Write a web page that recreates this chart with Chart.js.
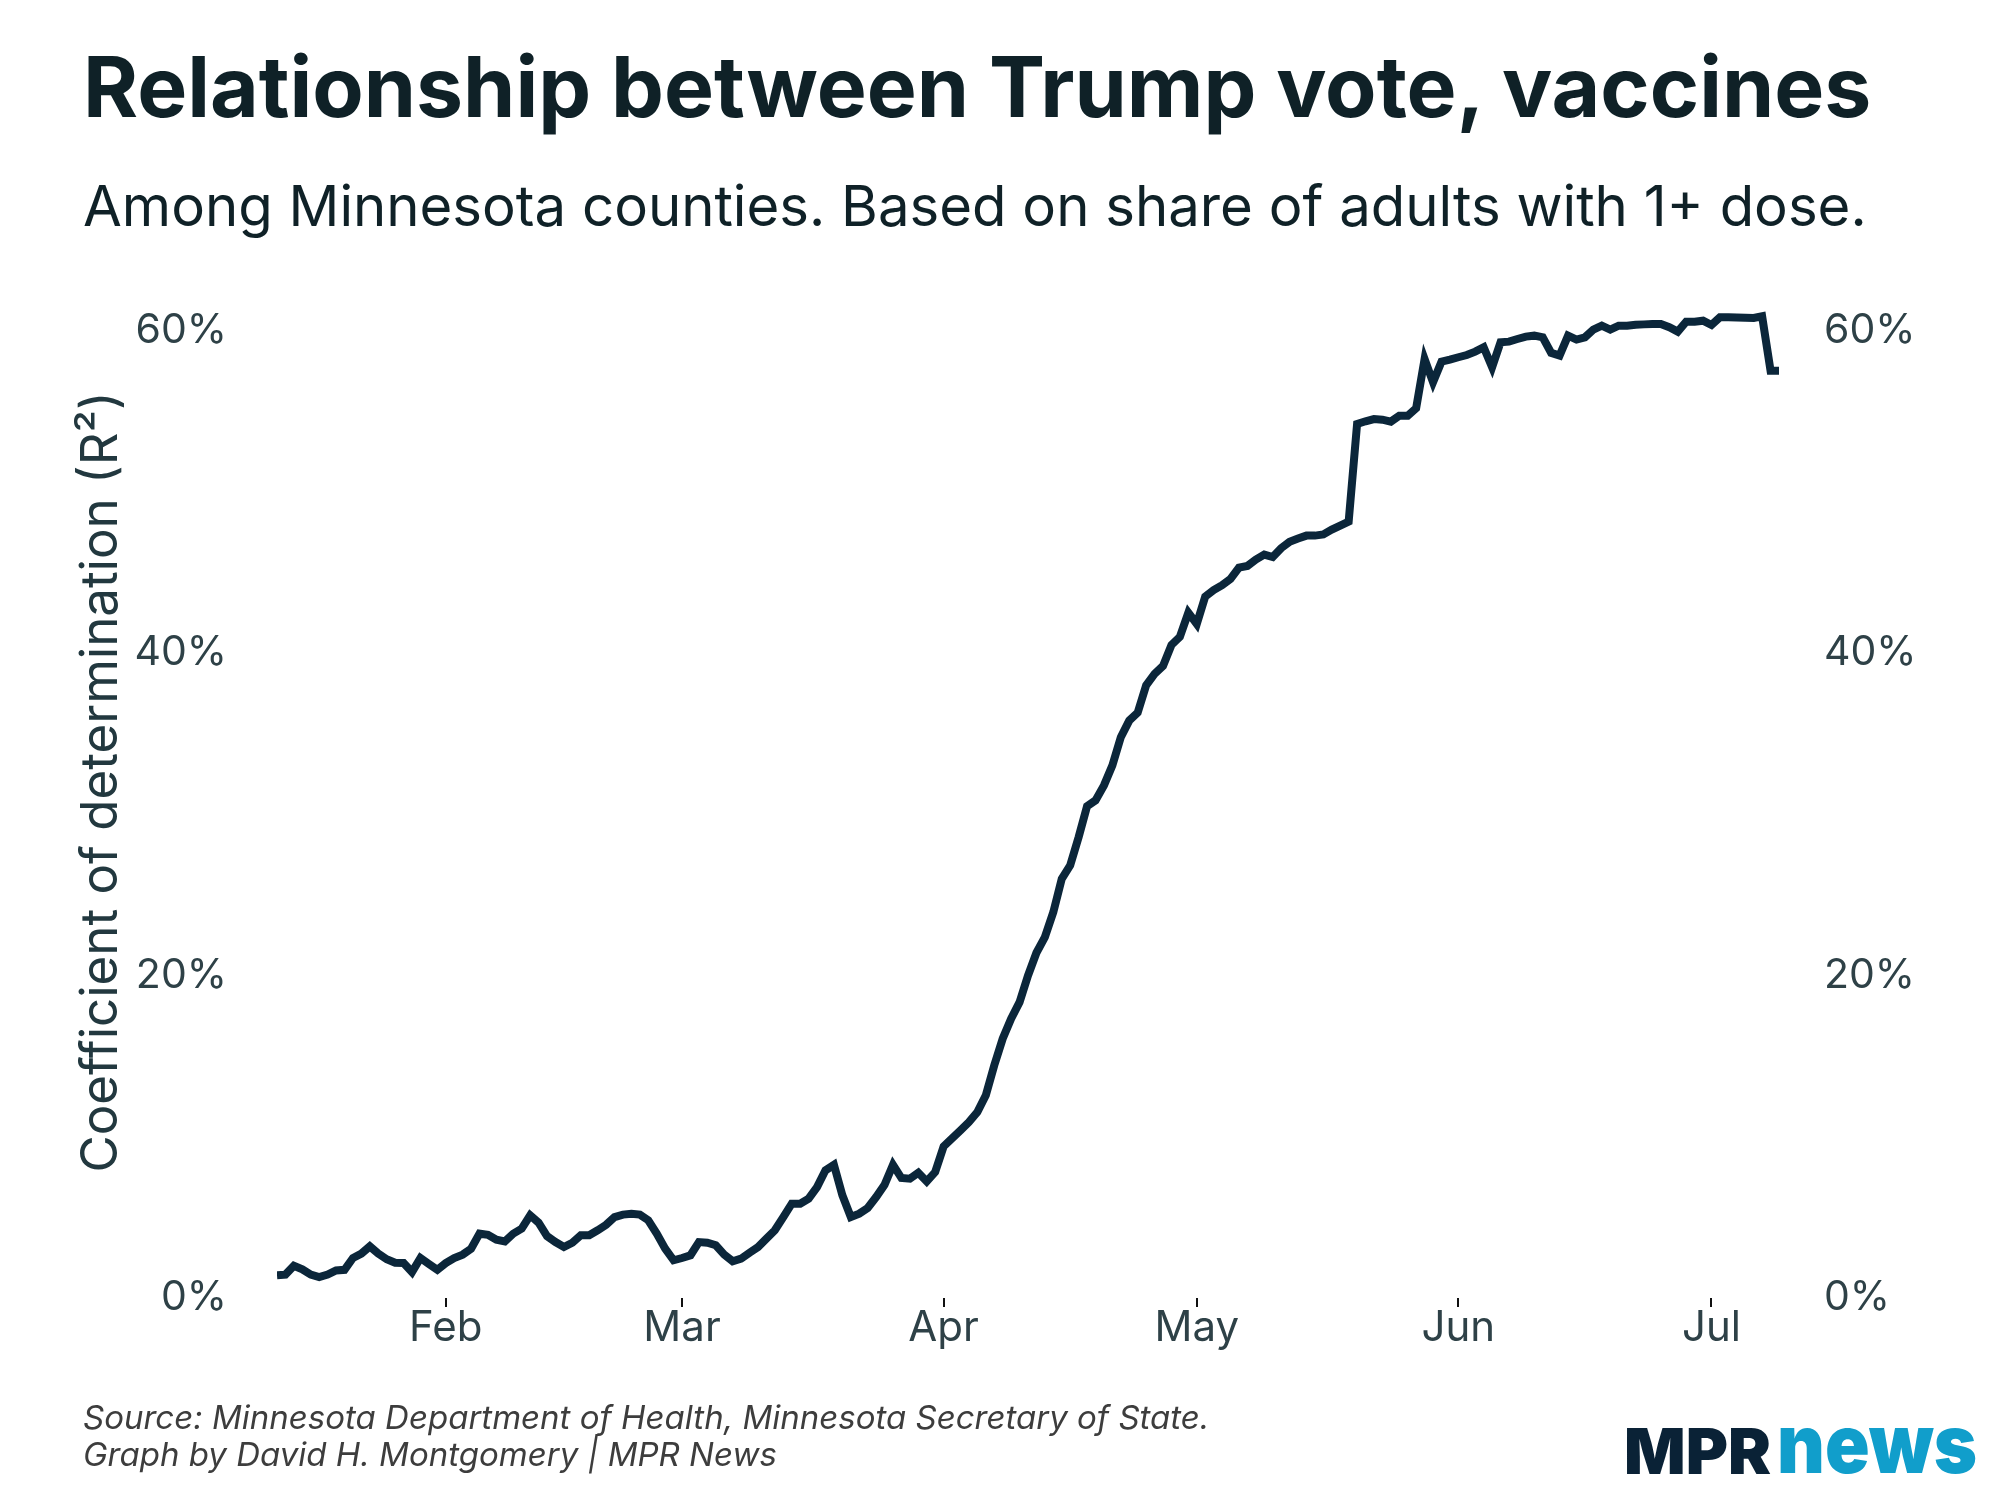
<!DOCTYPE html>
<html>
<head>
<meta charset="utf-8">
<title>Relationship between Trump vote, vaccines</title>
<script src="https://cdn.jsdelivr.net/npm/chart.js@4/dist/chart.umd.min.js"></script>
<style>
  html, body { margin: 0; padding: 0; background: #fff; }
  body { width: 2000px; height: 1500px; position: relative; overflow: hidden; font-family: Inter, sans-serif; }
  #contenedor { position: absolute; left: 0; top: 0; width: 2000px; height: 1500px; }
  .texto { position: absolute; white-space: nowrap; line-height: 1; }
  #titulo { left: 83px; top: 45px; font-size: 84px; font-weight: 700; color: #0f2127; }
  #subtitulo { left: 83px; top: 178px; font-size: 56.3px; font-weight: 400; color: #0f2127; }
  #fuente { left: 83px; top: 1399px; font-size: 33px; line-height: 37px; font-style: italic; color: #3d3d3d; }
  .logo { position: absolute; white-space: nowrap; line-height: 1; font-weight: 900; transform-origin: left top; }
  #logo-mpr { left: 1624px; top: 1420px; font-size: 63px; color: #0a2236; }
  #logo-news { left: 1777px; top: 1403px; font-size: 82px; color: #119ecb; }
</style>
</head>
<body>
<div id="contenedor"><canvas id="grafico"></canvas></div>
<div class="texto" id="titulo">Relationship between Trump vote, vaccines</div>
<div class="texto" id="subtitulo">Among Minnesota counties. Based on share of adults with 1+ dose.</div>
<div class="texto" id="fuente">Source: Minnesota Department of Health, Minnesota Secretary of State.<br>Graph by David H. Montgomery | MPR News</div>
<span class="logo" id="logo-mpr">MPR</span>
<span class="logo" id="logo-news">news</span>
<script>
// Primer día de la serie, como día del año 2021 (1 ene = 0): 12 de enero
const primerDia = 11;

// R² diario (%), del 12 de enero al 9 de julio
const valores = [
    1.41, 1.45, 2.00, 1.78, 1.45, 1.30, 1.45, 1.71, 1.75, 2.48,
    2.75, 3.20, 2.75, 2.40, 2.19, 2.17, 1.61, 2.48, 2.11, 1.75,
    2.17, 2.48, 2.69, 3.06, 3.99, 3.92, 3.61, 3.51, 3.99, 4.30,
    5.13, 4.67, 3.84, 3.47, 3.16, 3.43, 3.89, 3.89, 4.20, 4.54,
    5.02, 5.17, 5.23, 5.17, 4.82, 3.99, 3.06, 2.34, 2.48, 2.65,
    3.47, 3.43, 3.27, 2.69, 2.28, 2.44, 2.81, 3.16, 3.68, 4.20,
    5.02, 5.85, 5.85, 6.16, 6.88, 7.92, 8.26, 6.37, 5.02, 5.23,
    5.58, 6.26, 7.02, 8.26, 7.44, 7.40, 7.77, 7.23, 7.81, 9.40,
    9.90, 10.40, 10.91, 11.53, 12.57, 14.43, 16.08, 17.32, 18.35, 20.00,
    21.41, 22.38, 23.93, 26.00, 26.83, 28.58, 30.50, 30.86, 31.79, 33.03,
    34.78, 35.81, 36.30, 38.00, 38.70, 39.20, 40.50, 41.00, 42.50, 41.80,
    43.50, 43.90, 44.20, 44.60, 45.30, 45.40, 45.80, 46.10, 45.95, 46.50,
    46.90, 47.10, 47.28, 47.28, 47.35, 47.65, 47.90, 48.15, 54.20, 54.37,
    54.51, 54.47, 54.35, 54.72, 54.72, 55.18, 58.23, 56.79, 58.07, 58.19,
    58.34, 58.48, 58.69, 58.96, 57.72, 59.27, 59.31, 59.47, 59.62, 59.68,
    59.58, 58.61, 58.44, 59.68, 59.44, 59.58, 60.06, 60.30, 60.06, 60.30,
    60.30, 60.36, 60.38, 60.40, 60.40, 60.20, 59.93, 60.55, 60.55, 60.61,
    60.34, 60.82, 60.82, 60.80, 60.79, 60.78, 60.88, 57.51, 57.51
];

// Marcas del eje X: primer día de cada mes
const diasMes = [31, 59, 90, 120, 151, 181];
const etiquetasMes = ['Feb', 'Mar', 'Apr', 'May', 'Jun', 'Jul'];

// Marcas del eje Y (%)
const ticksY = [0, 20, 40, 60];

const colorLinea = '#0b263a';
const colorTicks = '#2e4147';

Chart.defaults.font.family = 'Inter, sans-serif';

const puntos = valores.map((v, i) => ({ x: primerDia + i, y: v }));

function opcionesEjeY(posicion, ancho, relleno, conTitulo) {
    return {
        type: 'linear',
        position: posicion,
        min: 0,
        max: 64,
        afterBuildTicks: escala => { escala.ticks = ticksY.map(v => ({ value: v })); },
        afterFit: escala => { escala.width = ancho; },
        grid: { display: false, drawTicks: false },
        border: { display: false },
        ticks: {
            padding: relleno,
            color: colorTicks,
            font: { size: 41 },
            callback: v => v + '%'
        },
        title: {
            display: conTitulo,
            text: 'Coefficient of determination (R²)',
            color: '#22383f',
            font: { size: 51 },
            padding: { top: 71, bottom: 0 }
        }
    };
}

let chart;

function inicializarGrafico() {
    const ctx = document.getElementById('grafico').getContext('2d');

    chart = new Chart(ctx, {
        type: 'line',
        data: {
            datasets: [{
                label: 'R²',
                data: puntos,
                borderColor: colorLinea,
                borderWidth: 8,
                pointRadius: 0,
                tension: 0,
                fill: false
            }]
        },
        options: {
            responsive: true,
            maintainAspectRatio: false,
            animation: false,
            layout: { padding: { top: 266, bottom: 102, left: 0, right: 0 } },
            plugins: {
                legend: { display: false },
                tooltip: { enabled: false }
            },
            scales: {
                x: {
                    type: 'linear',
                    min: primerDia,
                    max: primerDia + valores.length - 1,
                    afterBuildTicks: escala => { escala.ticks = diasMes.map(v => ({ value: v })); },
                    afterFit: escala => { escala.height = 100; },
                    grid: {
                        drawOnChartArea: false,
                        drawTicks: true,
                        tickLength: 9,
                        color: '#111111',
                        lineWidth: 2
                    },
                    border: { display: false },
                    ticks: {
                        autoSkip: false,
                        maxRotation: 0,
                        padding: -4,
                        color: colorTicks,
                        font: { size: 42 },
                        callback: v => etiquetasMes[diasMes.indexOf(v)]
                    }
                },
                y: opcionesEjeY('left', 277, 50, true),
                y2: opcionesEjeY('right', 221, 45, false)
            }
        }
    });
}

// Ajustar el ancho del logo al de la imagen
function ajustarAncho(id, ancho) {
    const el = document.getElementById(id);
    const actual = el.getBoundingClientRect().width;
    el.style.transform = `scaleX(${ancho / actual})`;
}

inicializarGrafico();
ajustarAncho('logo-mpr', 147);
ajustarAncho('logo-news', 200);
</script>
</body>
</html>
